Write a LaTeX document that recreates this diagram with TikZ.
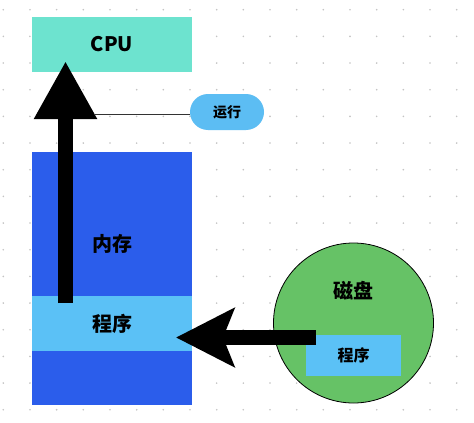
\documentclass[tikz,border=0pt]{standalone}
\usepackage{fontspec}
\setmainfont{Noto Sans CJK SC}
\usetikzlibrary{arrows.meta}
\definecolor{cpuc}{HTML}{6DE3CF}
\definecolor{memc}{HTML}{2B5DEB}
\definecolor{progc}{HTML}{5BC1F6}
\definecolor{pillc}{HTML}{5CBDF3}
\definecolor{diskc}{HTML}{66C266}
\definecolor{dotc}{HTML}{C4C4C4}
\tikzset{
  box/.style={inner sep=0pt, outer sep=0pt, minimum width=#1},
  lbl/.style={font=\fontsize{20}{20}\selectfont\bfseries, text=black},
  bigarrow/.style={line width=15.5pt, draw=black},
}
\begin{document}
\begin{tikzpicture}[x=1pt,y=-1pt]
\useasboundingbox (0,0) rectangle (474,423);
\fill[white] (0,0) rectangle (474,423);
\foreach \i in {0,...,17}
  \foreach \j in {0,...,15}
    \fill[dotc] (3.3+26.67*\i, 9.7+26.67*\j) circle (0.9pt);

% CPU
\node[box=160pt, minimum height=55pt, fill=cpuc, lbl] (cpu) at (112,44.5) {CPU};
% memory
\node[box=160pt, minimum height=253pt, fill=memc] (mem) at (112,278.5) {};
\node[lbl] (memlbl) at (112,244) {内存};
\node[box=160pt, minimum height=55pt, fill=progc, lbl] (memprog) at (112,323.5) {程序};
% run pill
\node[box=74pt, minimum height=36pt, fill=pillc, rounded corners=18pt,
      font=\fontsize{14}{14}\selectfont\bfseries] (run) at (227,112) {运行};
% disk
\node[circle, draw=black, line width=0.8pt, fill=diskc, minimum size=160pt, inner sep=0pt] (disk) at (353.5,323) {};
\node[lbl] (disklbl) at (353.5,291) {磁盘};
\node[box=95pt, minimum height=41pt, fill=progc, font=\fontsize{16}{16}\selectfont\bfseries] (diskprog) at (353.5,355.5) {程序};

% up arrow (memory program -> CPU)
\coordinate (upstart) at (65.5,303);
\coordinate (uptip) at (65.5,61);
\draw[bigarrow, -{Triangle[length=58pt,width=59pt]}] (upstart) -- (uptip);
% run line
\coordinate (runline) at (94,114);
\draw[line width=0.7pt, black!80] (runline) -- (run.west |- runline);

% left arrow (disk -> memory)
\coordinate (lstart) at (316,337.5);
\coordinate (ltip) at (176,337.5);
\draw[bigarrow, -{Stealth[length=58pt,width=58pt,inset=11pt]}] (lstart) -- (ltip);
\end{tikzpicture}
\end{document}
